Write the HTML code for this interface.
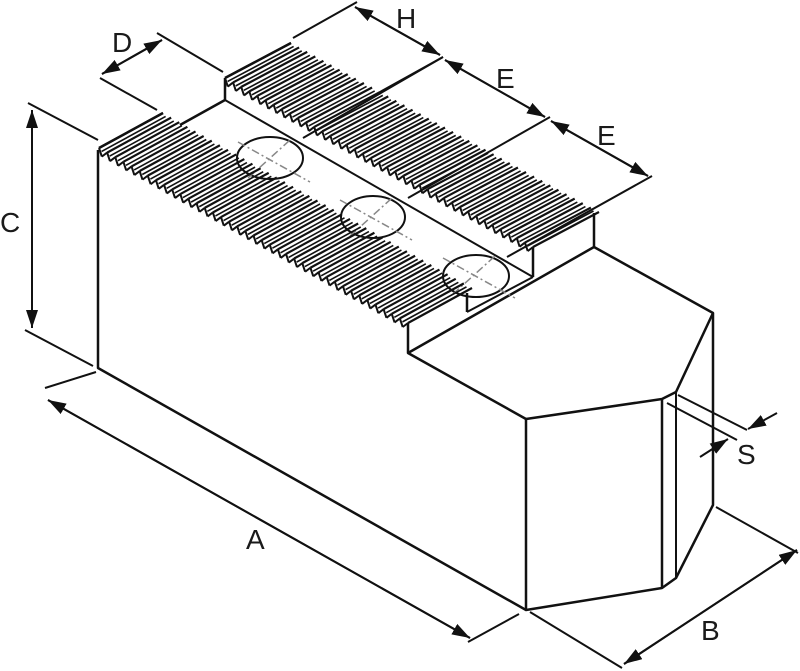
<!DOCTYPE html>
<html><head><meta charset="utf-8"><style>
html,body{margin:0;padding:0;background:#fff;width:800px;height:671px;overflow:hidden}
svg{display:block}
text{font-family:"Liberation Sans",sans-serif;font-size:28px;fill:#1a1a1a}
</style></head><body>
<svg id="s" width="800" height="671" viewBox="0 0 800 671" xmlns="http://www.w3.org/2000/svg">
<defs>
<marker id="al" markerWidth="18" markerHeight="12" refX="18" refY="6" orient="auto" markerUnits="userSpaceOnUse"><path d="M0,0 L18,6 L0,12 Z" fill="#111"/></marker></defs>
<g stroke="#111" stroke-width="2.5" fill="none" stroke-linejoin="round">
<path d="M98,150 L98,368 L526,610 L662,588 L676,578 L713,505 L713,313 L594,247"/>
<path d="M526,610 L526,419 L662,399 L676,392 L713,313"/>
<path d="M662,399 L662,588"/>
<path d="M676,392 L676,578" stroke-width="2"/>
<path d="M408,323 L408,353 L526,419"/>
<path d="M408,353 L594,247 L594,213"/>
<path d="M467,293 L467,312"/>
<path d="M533,247 L533,277"/>
<path d="M225,78 L225,100 L180,125"/>
<path d="M225,100 L533,277" stroke-width="2"/>
<path d="M467,312 L533,277" stroke-width="2"/>
</g>
<g fill="none" stroke="#111" stroke-width="2">
<ellipse cx="270" cy="158" rx="33" ry="21"/>
<ellipse cx="373" cy="217" rx="32" ry="21"/>
<ellipse cx="476" cy="276" rx="33" ry="21"/>
</g>
<g stroke="#888" stroke-width="1.5" stroke-dasharray="8,3,2,3" fill="none">
<path d="M238,142 L310,182 M248,178 L290,140"/>
<path d="M340,200 L412,240 M350,236 L392,198"/>
<path d="M443,258 L515,298 M453,294 L495,256"/>
</g>
<g id="teeth" stroke="#111" stroke-width="2.2" fill="none"></g>
<g stroke="#111" stroke-width="2" fill="none">
<path d="M28,103 L98,140 M25,330 L93,366"/>
<path d="M100,78 L157,110 M157,33 L223,72"/>
<path d="M102,74 L162,40" marker-end="url(#al)"/><path d="M162,40 L102,74" marker-end="url(#al)"/>
<path d="M293,38 L357,2 M380,92 L443,57"/>
<path d="M355,7 L440,55" marker-end="url(#al)"/><path d="M440,55 L355,7" marker-end="url(#al)"/>
<path d="M303,138 L443,57 M408,198 L550,117 M507,257 L652,176"/>
<path d="M445,60 L545,117" marker-end="url(#al)"/><path d="M545,117 L445,60" marker-end="url(#al)"/>
<path d="M551,121 L648,176" marker-end="url(#al)"/><path d="M648,176 L551,121" marker-end="url(#al)"/>
<path d="M45,388 L96,372 M468,642 L519,614"/>
<path d="M48,400 L470,638" marker-end="url(#al)"/><path d="M470,638 L48,400" marker-end="url(#al)"/>
<path d="M530,612 L622,668 M716,507 L798,553"/>
<path d="M624,664 L797,550" marker-end="url(#al)"/><path d="M797,550 L624,664" marker-end="url(#al)"/>
<path d="M678,395 L747,430 M667,403 L737,440"/>
<path d="M777,413 L748,429" marker-end="url(#al)"/>
<path d="M700,457 L728,439" marker-end="url(#al)"/>
<path d="M32,110 L32,328" marker-end="url(#al)"/>
<path d="M32,328 L32,110" marker-end="url(#al)"/>
</g>
<text x="0" y="232">C</text>
<text x="112" y="52">D</text>
<text x="396" y="28">H</text>
<text x="496" y="88">E</text>
<text x="597" y="145">E</text>
<text x="246" y="549">A</text>
<text x="701" y="640">B</text>
<text x="737" y="464">S</text>
</svg>
<script>
(function(){
var g=document.getElementById('teeth'),ns='http://www.w3.org/2000/svg';
function ln(a,b,c,d,w){var l=document.createElementNS(ns,'line');l.setAttribute('x1',a);l.setAttribute('y1',b);l.setAttribute('x2',c);l.setAttribute('y2',d);if(w)l.setAttribute('stroke-width',w);g.appendChild(l);}
function strip(x0,y0,x1,y1,wx,wy,n){
 var dx=(x1-x0)/n,dy=(y1-y0)/n;
 var ux=dx/Math.hypot(dx,dy),uy=dy/Math.hypot(dx,dy);
 for(var i=0;i<n;i++){
  var px=x0+dx*i,py=y0+dy*i;
  ln(px,py,px+wx,py+wy);
  ln(px+ux*3,py+uy*3+2,px+wx+ux*3,py+wy+uy*3+2,1.6);
  ln(px,py,px+dx*0.35,py+dy*0.35+7,2);
  ln(px+dx*0.35,py+dy*0.35+7,px+dx,py+dy,2);
 }
 ln(x1,y1,x1+wx,y1+wy);
 ln(x0,y0,x0+wx,y0+wy,2.5);
}
strip(99,148,408,323,64,-35,38);
strip(225,78,533,247,66,-35,38);
})();
</script>
</body></html>
